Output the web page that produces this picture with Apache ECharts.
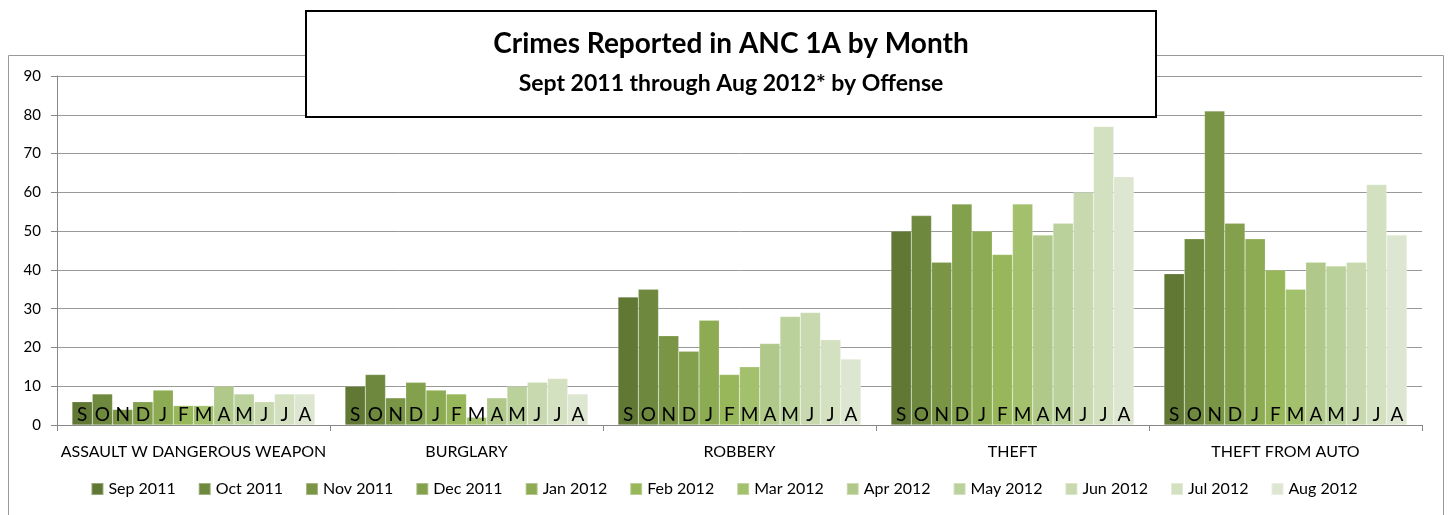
<!DOCTYPE html>
<html>
<head>
<meta charset="utf-8">
<script src="https://cdn.jsdelivr.net/npm/echarts@6/dist/echarts.min.js"></script>
<style>html,body{margin:0;padding:0;background:#fff;}#c{width:1448px;height:515px;}</style>
</head>
<body>
<div id="c"></div>
<script>
const offenses = ['ASSAULT W DANGEROUS WEAPON', 'BURGLARY', 'ROBBERY', 'THEFT', 'THEFT FROM AUTO'];
const months = ['Sep 2011','Oct 2011','Nov 2011','Dec 2011','Jan 2012','Feb 2012','Mar 2012','Apr 2012','May 2012','Jun 2012','Jul 2012','Aug 2012'];
const monthLetters = ['S','O','N','D','J','F','M','A','M','J','J','A'];
const assault = [6, 8, 4, 6, 9, 5, 5, 10, 8, 6, 8, 8];
const burglary = [10, 13, 7, 11, 9, 8, 2, 7, 10, 11, 12, 8];
const robbery = [33, 35, 23, 19, 27, 13, 15, 21, 28, 29, 22, 17];
const theft = [50, 54, 42, 57, 50, 44, 57, 49, 52, 60, 77, 64];
const theftFromAuto = [39, 48, 81, 52, 48, 40, 35, 42, 41, 42, 62, 49];
const yTicks = [0, 10, 20, 30, 40, 50, 60, 70, 80, 90];
const colors = ['#617835','#6e883e','#799545','#83a04c','#8dab53','#98b75a','#a3c06d','#b0c98a','#bbd19c','#c8d9af','#d3e1c0','#dde6d1'];

const byOffense = [assault, burglary, robbery, theft, theftFromAuto];
const FONT = 'Lato, "Open Sans", sans-serif';

const series = months.map((m, i) => ({
  name: m,
  type: 'bar',
  barGap: '0%',
  barCategoryGap: '11%',
  data: byOffense.map(arr => arr[i]),
  itemStyle: { color: colors[i], borderColor: 'rgba(255,255,255,0.35)', borderWidth: 0.5 },
  label: {
    show: true,
    position: 'insideBottom',
    distance: 1,
    formatter: () => monthLetters[i],
    color: '#000',
    fontSize: 19,
    fontFamily: FONT
  }
}));

const chart = echarts.init(document.getElementById('c'), null, { renderer: 'canvas' });
chart.setOption({
  animation: false,
  color: colors,
  grid: { left: 57, right: 26, top: 76, bottom: 90, containLabel: false },
  legend: {
    bottom: 13,
    left: 'center',
    itemWidth: 12,
    itemHeight: 12,
    itemGap: 22,
    icon: 'rect',
    textStyle: { fontSize: 16, color: '#000', fontFamily: FONT },
    data: months
  },
  xAxis: {
    type: 'category',
    data: offenses,
    axisLine: { lineStyle: { color: '#888', width: 1 } },
    axisTick: { show: true, alignWithLabel: false, length: 6, lineStyle: { color: '#888' } },
    axisLabel: { interval: 0, fontSize: 16, color: '#000', fontFamily: FONT, margin: 19 }
  },
  yAxis: {
    type: 'value',
    min: yTicks[0],
    max: yTicks[yTicks.length - 1],
    interval: 10,
    axisLine: { show: true, lineStyle: { color: '#888' } },
    axisTick: { show: true, length: 6, lineStyle: { color: '#888' } },
    axisLabel: { fontSize: 15, color: '#000', fontFamily: FONT, margin: 16 },
    splitLine: { lineStyle: { color: '#999', width: 1 } }
  },
  series: series,
  graphic: [
    {
      type: 'rect',
      z: 0,
      silent: true,
      shape: { x: 8.5, y: 55.5, width: 1435, height: 480 },
      style: { fill: 'none', stroke: '#999', lineWidth: 1 }
    },
    {
      type: 'rect',
      z: 100,
      silent: true,
      shape: { x: 306, y: 11, width: 850, height: 106 },
      style: { fill: '#fff', stroke: '#000', lineWidth: 2 }
    },
    {
      type: 'text',
      z: 101,
      silent: true,
      style: {
        x: 731, y: 44, text: 'Crimes Reported in ANC 1A by Month',
        align: 'center', verticalAlign: 'middle',
        font: 'bold 28px ' + FONT, fill: '#000'
      }
    },
    {
      type: 'text',
      z: 101,
      silent: true,
      style: {
        x: 731, y: 84, text: 'Sept 2011 through Aug 2012* by Offense',
        align: 'center', verticalAlign: 'middle',
        font: 'bold 23px ' + FONT, fill: '#000'
      }
    }
  ]
});
</script>
</body>
</html>
